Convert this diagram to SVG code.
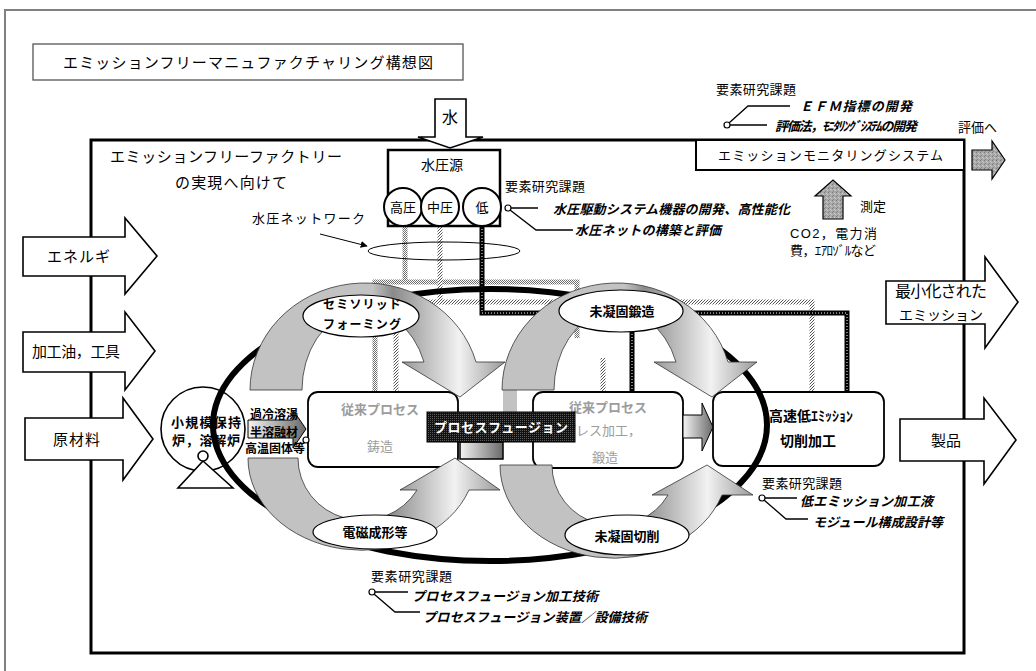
<svg xmlns="http://www.w3.org/2000/svg" width="1036" height="671" viewBox="0 0 1036 671">
<defs>
<style>
text{font-family:'Liberation Sans','Noto Sans CJK JP',sans-serif;dominant-baseline:central;fill:#000}
.c{text-anchor:middle}
.b{font-weight:bold}
.bi{font-weight:bold;font-style:italic}
.gt{fill:#9c9c9c;font-weight:bold}
.gr{fill:#9c9c9c}
.wt{fill:#fff;font-weight:bold}
.ln{fill:none;stroke:#000;stroke-width:1.3}
.wf{fill:#fff;stroke:#000;stroke-width:1.6}
.box{fill:#fff;stroke:#000;stroke-width:1.8}
.band{fill:url(#gBand);stroke:#333;stroke-width:0.8}
.ell{fill:#fff;stroke:#000;stroke-width:1.2}
.dot{fill:#fff;stroke:#000;stroke-width:1.2}
</style>
<pattern id="chk" width="2" height="2" patternUnits="userSpaceOnUse"><rect width="2" height="2" fill="#fff"/><rect width="1" height="1" fill="#6e6e6e"/><rect x="1" y="1" width="1" height="1" fill="#6e6e6e"/></pattern>
<pattern id="hatch" width="3" height="3" patternUnits="userSpaceOnUse"><rect width="3" height="3" fill="#fff"/><path d="M-1,4 L4,-1" stroke="#555" stroke-width="1"/></pattern>
<pattern id="dark" width="2" height="2" patternUnits="userSpaceOnUse"><rect width="2" height="2" fill="#111"/><rect width="1" height="1" fill="#5a5a5a"/></pattern>
<pattern id="mottle" width="4" height="4" patternUnits="userSpaceOnUse"><rect width="4" height="4" fill="#a8a8a8"/><rect width="1" height="1" fill="#7a7a7a"/><rect x="2" y="1" width="1" height="1" fill="#d0d0d0"/><rect x="1" y="3" width="1" height="1" fill="#888"/><rect x="3" y="2" width="1" height="1" fill="#c4c4c4"/></pattern>
<linearGradient id="gBand" x1="0" y1="0" x2="1" y2="0"><stop offset="0" stop-color="#c2c2c2"/><stop offset="0.48" stop-color="#c2c2c2"/><stop offset="0.56" stop-color="#8a8a8a"/><stop offset="0.82" stop-color="#f2f2f2"/><stop offset="1" stop-color="#9a9a9a"/></linearGradient>
<linearGradient id="gSm" x1="0" y1="0" x2="1" y2="0"><stop offset="0" stop-color="#f4f4f4"/><stop offset="1" stop-color="#6a6a6a"/></linearGradient>
<marker id="ah" viewBox="0 0 10 10" refX="9" refY="5" markerWidth="7" markerHeight="7" orient="auto" markerUnits="userSpaceOnUse"><path d="M0,0 L10,5 L0,10 Z" fill="#000"/></marker>
</defs>
<rect width="1036" height="671" fill="#fff"/>
<rect x="5" y="10" width="1100" height="720" fill="none" stroke="#808080" stroke-width="2"/>

<g id="title">
<rect x="33" y="44" width="430" height="36" fill="#fff" stroke="#555" stroke-width="1.3"/>
<text x="63" y="62" font-size="15" textLength="370">エミッションフリーマニュファクチャリング構想図</text>
</g>

<g id="factory">
<rect x="91" y="140" width="873" height="513" fill="none" stroke="#000" stroke-width="3"/>
<text x="110" y="156" font-size="15" textLength="232">エミッションフリーファクトリー</text>
<text x="175" y="182" font-size="15" textLength="112">の実現へ向けて</text>
</g>

<g id="in-energy">
<path class="wf" d="M23,237 H125 V218 L157,256 L125,294 V276 H23 Z"/>
<text x="47" y="256" font-size="15" textLength="63">エネルギ</text>
</g>
<g id="in-oil">
<path class="wf" d="M23,332 H125 V312 L155,351 L125,390 V372 H23 Z"/>
<text x="32" y="351" font-size="15" textLength="88">加工油，工具</text>
</g>
<g id="in-material">
<path class="wf" d="M25,418 H123 V398 L153,439 L123,480 V460 H25 Z"/>
<text x="53" y="439" font-size="15" textLength="47">原材料</text>
</g>
<g id="out-emission">
<path class="wf" d="M886,281 H985 V257 L1018,302 L985,348 V324 H886 Z"/>
<text x="895" y="291" font-size="16" textLength="92">最小化された</text>
<text x="899" y="315" font-size="14" textLength="84">エミッション</text>
</g>
<g id="out-product">
<path class="wf" d="M900,419 H984 V398 L1016,440 L984,484 V461 H900 Z"/>
<text x="946" y="440" font-size="15" class="c">製品</text>
</g>

<g id="water">
<path class="wf" d="M435,99 H466 V137 H483 L450,148 L418,137 H435 Z"/>
<text x="450" y="117" font-size="16" class="c">水</text>
</g>

<g id="monitor">
<rect x="696" y="140" width="268" height="30" fill="#fff" stroke="#000" stroke-width="2"/>
<text x="718" y="155" font-size="13" textLength="225">エミッションモニタリングシステム</text>
<path d="M972,150 H992 V141 L1005,160 L992,179 V170 H972 Z" fill="url(#mottle)" stroke="#000" stroke-width="1.2"/>
<text x="958" y="127" font-size="13">評価へ</text>
<path d="M823,219 V196 H815 L833,180 L851,196 H843 V219 Z" fill="url(#mottle)" stroke="#000" stroke-width="1.2"/>
<text x="860" y="206" font-size="13">測定</text>
<text x="790" y="233" font-size="13" textLength="87">CO2，電力消</text>
<text x="790" y="250" font-size="13" textLength="86">費，ｴｱﾛｿﾞﾙなど</text>
</g>

<g id="connectors">
<path d="M405,226 V282" fill="none" stroke="url(#chk)" stroke-width="5"/>
<path d="M375,392 V282 H577 V338" fill="none" stroke="url(#chk)" stroke-width="5"/>
<path d="M440,226 V302" fill="none" stroke="url(#hatch)" stroke-width="5"/>
<path d="M396,392 V302 H812 V392" fill="none" stroke="url(#hatch)" stroke-width="5"/>
<path d="M603,358 V392" fill="none" stroke="url(#hatch)" stroke-width="5"/>
<path d="M482,226 V313 H847 V392 M632,313 V392" fill="none" stroke="#000" stroke-width="5"/>
<path d="M482,226 V313 H847 V392 M632,313 V392" fill="none" stroke="#fff" stroke-width="1" stroke-dasharray="1 2"/>
<ellipse cx="444" cy="251" rx="76" ry="9" fill="none" stroke="#000" stroke-width="1"/>
<text x="252" y="218" font-size="13" textLength="113">水圧ネットワーク</text>
<path d="M320,234 L367,246" fill="none" stroke="#000" stroke-width="1" marker-end="url(#ah)"/>
</g>

<g id="hydraulic-source">
<rect x="388" y="150" width="112" height="76" fill="#fff" stroke="#000" stroke-width="2.5"/>
<text x="442" y="165" font-size="14" class="c">水圧源</text>
<circle cx="403" cy="207" r="19" fill="#fff" stroke="#000" stroke-width="2"/>
<circle cx="440" cy="207" r="19" fill="#fff" stroke="#000" stroke-width="2"/>
<circle cx="482" cy="207" r="19" fill="#fff" stroke="#000" stroke-width="2"/>
<text x="403" y="207" font-size="13" class="c">高圧</text>
<text x="440" y="207" font-size="13" class="c">中圧</text>
<text x="482" y="207" font-size="13" class="c">低</text>
</g>

<g id="casting">
<rect class="box" x="308" y="392" width="150" height="75" rx="10"/>
<text x="380" y="409" font-size="13" class="c gt">従来プロセス</text>
<text x="380" y="446" font-size="13" class="c gr">鋳造</text>
</g>
<g id="press">
<rect class="box" x="533" y="392" width="150" height="76" rx="10"/>
<text x="608" y="407" font-size="13" class="c gt">従来プロセス</text>
<text x="563" y="430" font-size="13" class="gr">プレス加工，</text>
<text x="605" y="457" font-size="13" class="c gr">鍛造</text>
</g>
<g id="cutting">
<rect class="box" x="713" y="392" width="171" height="74" rx="10"/>
<text x="811" y="416" font-size="14" class="c b">高速低ｴﾐｯｼｮﾝ</text>
<text x="808" y="441" font-size="14" class="c b">切削加工</text>
</g>
<g id="furnace">
<circle cx="203" cy="429" r="42" fill="#fff" stroke="#000" stroke-width="1.6"/>
<text x="206" y="422" font-size="13" class="c b" textLength="70">小規模保持</text>
<text x="206" y="440" font-size="13" class="c b" textLength="68">炉，溶解炉</text>
<path d="M203,461 L178,488 H233 Z" fill="#fff" stroke="#000" stroke-width="1.6"/>
<circle cx="203" cy="456" r="5" fill="#fff" stroke="#000" stroke-width="1.6"/>
</g>
<g id="small-arrows">
<path d="M248,420 H293 V410 L306,429 L293,448 V438 H248 Z" fill="url(#gSm)" stroke="#000" stroke-width="1"/>
<text x="274" y="415" font-size="12" class="c b">過冷溶湯</text>
<text x="274" y="433" font-size="12" class="c b">半溶融材</text>
<text x="275" y="449" font-size="12" class="c b">高温固体等</text>
<circle class="dot" cx="306" cy="440" r="3"/>
<rect x="460" y="442" width="43" height="17" fill="url(#gSm)" stroke="#000" stroke-width="1.5"/>
<path d="M683,415 H702 V403 L713,427 L702,451 V438 H683 Z" fill="url(#gSm)" stroke="#000" stroke-width="1"/>
</g>

<g id="loop">
<ellipse cx="490" cy="425" rx="277" ry="136" fill="none" stroke="#000" stroke-width="6"/>
</g>

<g id="semisolid">
<path class="band" d="M250,390 A115 107 0 0 1 476 362 L505,362 L460,397 L402,362 L424,362 A63 80 0 0 0 302 390 Z"/>
<ellipse class="ell" cx="361" cy="316" rx="58" ry="21"/>
<text x="362" y="305" font-size="12" class="c b" textLength="78">セミソリッド</text>
<text x="362" y="325" font-size="12" class="c b" textLength="78">フォーミング</text>
</g>
<g id="unsolid-forging">
<rect x="503" y="388" width="14" height="24" fill="#c2c2c2"/>
<path class="band" d="M502,390 A115 107 0 0 1 728 362 L757,362 L712,397 L654,362 L676,362 A63 80 0 0 0 554 390 Z"/>
<ellipse class="ell" cx="621" cy="311" rx="62" ry="21"/>
<text x="622" y="311" font-size="13" class="c b">未凝固鍛造</text>
</g>
<g id="em-forming">
<path class="band" d="M248,458 A114 92 0 0 0 469 490 L500,490 L455,458 L400,490 L417,490 A64 62 0 0 1 298 458 Z"/>
<ellipse class="ell" cx="375" cy="532" rx="62" ry="17"/>
<text x="375" y="532" font-size="13" class="c b">電磁成形等</text>
</g>
<g id="unsolid-cutting">
<path class="band" d="M500,465 A114 93 0 0 0 722 495 L753,495 L707,465 L652,495 L668,495 A62 60 0 0 1 552 465 Z"/>
<ellipse class="ell" cx="627" cy="535" rx="62" ry="20"/>
<text x="627" y="536" font-size="13" class="c b">未凝固切削</text>
</g>

<g id="process-fusion">
<rect x="427" y="412" width="148" height="30" fill="url(#dark)" stroke="#000" stroke-width="1"/>
<text x="434" y="427" font-size="13" class="wt" textLength="134">プロセスフュージョン</text>
</g>

<g id="research-hydraulic">
<text x="505" y="186" font-size="13" textLength="80">要素研究課題</text>
<path class="ln" d="M511,208 H538 M510,210 L536,230 H573"/>
<circle class="dot" cx="508" cy="208" r="3"/>
<text x="553" y="209" font-size="13" class="bi" textLength="237">水圧駆動システム機器の開発、高性能化</text>
<text x="575" y="230" font-size="13" class="bi" textLength="146">水圧ネットの構築と評価</text>
</g>
<g id="research-monitor">
<text x="716" y="89" font-size="13" textLength="80">要素研究課題</text>
<path class="ln" d="M730,125 H767 M729,123 L748,106 H790"/>
<circle class="dot" cx="727" cy="125" r="3"/>
<text x="800" y="106" font-size="13" class="bi" textLength="112">ＥＦＭ指標の開発</text>
<text x="775" y="126" font-size="13" class="bi" textLength="142">評価法，ﾓﾆﾀﾘﾝｸﾞｼｽﾃﾑの開発</text>
</g>
<g id="research-fusion">
<text x="371" y="576" font-size="13" textLength="81">要素研究課題</text>
<path class="ln" d="M375,592 H408 M374,594 L395,612 H420"/>
<circle class="dot" cx="372" cy="592" r="3"/>
<text x="412" y="596" font-size="13" class="bi" textLength="186">プロセスフュージョン加工技術</text>
<text x="423" y="617" font-size="13" class="bi" textLength="224">プロセスフュージョン装置／設備技術</text>
</g>
<g id="research-cutting">
<text x="762" y="483" font-size="13" textLength="80">要素研究課題</text>
<path class="ln" d="M765,498 H797 M764,500 L786,519 H808"/>
<circle class="dot" cx="762" cy="498" r="3"/>
<text x="800" y="501" font-size="13" class="bi" textLength="133">低エミッション加工液</text>
<text x="813" y="522" font-size="13" class="bi" textLength="130">モジュール構成設計等</text>
</g>
</svg>
